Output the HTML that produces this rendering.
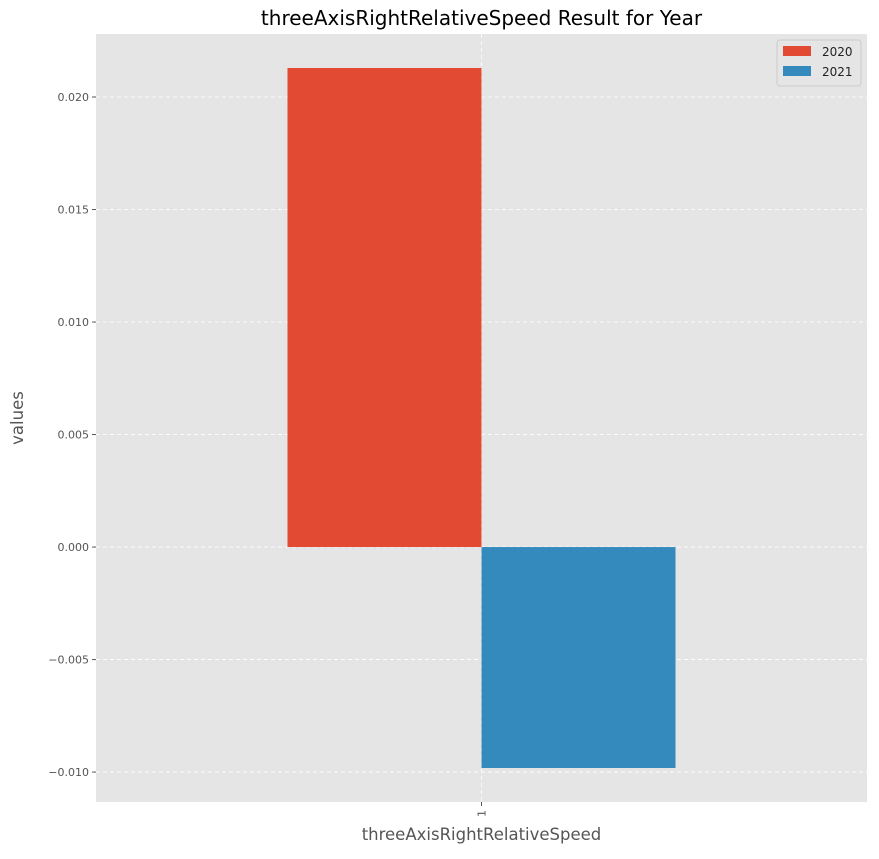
<!DOCTYPE html>
<html><head><meta charset="utf-8"><style>
body{margin:0;background:#fff;font-family:"DejaVu Sans","Liberation Sans",sans-serif}
</style></head><body>
<svg id="chart" width="879" height="855" xmlns="http://www.w3.org/2000/svg" font-family="DejaVu Sans, Liberation Sans, sans-serif"></svg>
<script>
const categories = ["1"];
const series2020 = [0.02129];
const series2021 = [-0.00982];
const seriesNames = ["2020","2021"];
const yTicks = [-0.010,-0.005,0.000,0.005,0.010,0.015,0.020];
const yTickLabels = ["\u22120.010","\u22120.005","0.000","0.005","0.010","0.015","0.020"];

const svg = document.getElementById('chart');
const NS = 'http://www.w3.org/2000/svg';
const L=96,R=867,T=34,B=802;
const yMin=-0.01133,yMax=0.0228;
function y(v){return B-(v-yMin)/(yMax-yMin)*(B-T);}
const n=categories.length, band=(R-L)/n;
function xc(i){return L+band*(i+0.5);}
const barW=194;
function mk(tag,attrs,txt){const e=document.createElementNS(NS,tag);for(const k in attrs)e.setAttribute(k,attrs[k]);if(txt!==undefined)e.textContent=txt;svg.appendChild(e);return e;}

let bg=mk('rect',{x:L,y:T,width:R-L,height:B-T,fill:'#e5e5e5'});



yTicks.forEach((t,i)=>{
  let g=mk('line',{x1:L,x2:R,y1:y(t),y2:y(t),stroke:'#fff','stroke-dasharray':'4,3','stroke-width':0.8});
  
  
  let tk=mk('line',{x1:L-4,x2:L,y1:y(t),y2:y(t),stroke:'#555'});
  
  
  let lb=mk('text',{x:L-7,y:y(t)+4,'text-anchor':'end','font-size':11,fill:'#555'},yTickLabels[i]);
  
  
});
categories.forEach((c,i)=>{
  let g=mk('line',{x1:xc(i),x2:xc(i),y1:T,y2:B,stroke:'#fff','stroke-dasharray':'4,3','stroke-width':0.8});
  
  
  let tk=mk('line',{x1:xc(i),x2:xc(i),y1:B,y2:B+4,stroke:'#555'});
  
  
  let lb=mk('text',{x:0,y:0,'font-size':11,fill:'#555','text-anchor':'end',transform:`translate(${xc(i)+4},${B+8}) rotate(-90)`},c);
  
  
  let v1=series2020[i], v2=series2021[i];
  let b1=mk('rect',{x:xc(i)-barW,y:Math.min(y(v1),y(0)),width:barW,height:Math.abs(y(v1)-y(0)),fill:'#e24a33'});
  
  
  let b2=mk('rect',{x:xc(i),y:Math.min(y(v2),y(0)),width:barW,height:Math.abs(y(v2)-y(0)),fill:'#348abd'});
  
  
});
let ti=mk('text',{x:(L+R)/2,y:25,'text-anchor':'middle','font-size':20,fill:'#000'},'threeAxisRightRelativeSpeed Result for Year');


let xt=mk('text',{x:(L+R)/2,y:840,'text-anchor':'middle','font-size':16.5,fill:'#555'},'threeAxisRightRelativeSpeed');


let yt=mk('text',{x:0,y:0,'text-anchor':'middle','font-size':16.5,fill:'#555',transform:`translate(23,${(T+B)/2}) rotate(-90)`},'values');


let lg=mk('rect',{x:777,y:40,width:84,height:46,fill:'#e5e5e5',stroke:'#ccc',rx:3});


const colors=['#e24a33','#348abd'];
seriesNames.forEach((s,i)=>{
  let sw=mk('rect',{x:783,y:46+i*20,width:28,height:10,fill:colors[i]});
  
  
  let t=mk('text',{x:822,y:56+i*20,'font-size':12,fill:'#222'},s);
  
  
});
</script>
</body></html>
